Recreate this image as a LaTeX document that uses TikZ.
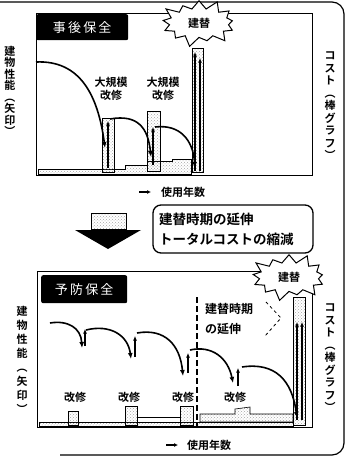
\documentclass[tikz,border=0pt]{standalone}
\usepackage{fontspec}
\setmainfont{Noto Sans CJK JP}[BoldFont={Noto Sans CJK JP Bold}]
\usetikzlibrary{arrows.meta,shapes.symbols,patterns}
\tikzset{
  perf/.style={line width=1.6pt, -{Latex[length=6pt,width=5pt]}},
  uparr/.style={line width=1.1pt, -{Latex[length=4.5pt,width=4pt]}},
  costbar/.style={draw=black, line width=0.8pt, pattern=crosshatch dots, pattern color=gray!70},
  costband/.style={draw=black, line width=0.6pt, pattern=crosshatch dots, pattern color=gray!70},
  lbl/.style={font=\bfseries\fontsize{11}{13}\selectfont, align=center, inner sep=0pt},
  vtext/.style={font=\bfseries\fontsize{11}{#1}\selectfont, align=center, inner sep=0pt},
  tagbox/.style={fill=black, text=white, rounded corners=2pt, inner sep=0pt,
    font=\fontsize{13}{15}\selectfont},
  burst/.style={starburst, starburst points=13, starburst point height=11pt, draw=black,
    fill=white, line width=1pt, inner xsep=10pt, inner ysep=5pt, font=\bfseries\fontsize{11}{12}\selectfont},
  chart/.style={draw=black, line width=1.4pt},
  axlbl/.style={font=\bfseries\fontsize{11}{13}\selectfont, inner sep=0pt}
}
\begin{document}
\begin{tikzpicture}[x=1pt,y=-1pt]
\useasboundingbox (0,0) rectangle (347,458);
% outer frame
\draw[line width=1.2pt, rounded corners=12pt] (0,2) -- (344,2) -- (344,455) -- (60,455);
% ================= top chart =================
\node[chart, minimum width=276pt, minimum height=162pt, anchor=north west, inner sep=0pt] (c1) at (36,13) {};
\node[tagbox, minimum width=92pt, minimum height=26pt, anchor=north west] (t1) at (36,14) {事\,後\,保\,全};
% cost band
\draw[costband] (38,174) -- (38,169) -- (125,169) -- (125,165) -- (147,165) -- (147,161) -- (172,161) -- (172,159) -- (191,159) -- (191,174) -- cycle;
\node[costbar, minimum width=12pt, minimum height=54pt, anchor=south west, inner sep=0pt] (b11) at (102,173) {};
\node[costbar, minimum width=13pt, minimum height=60pt, anchor=south west, inner sep=0pt] (b12) at (147,172) {};
\node[costbar, minimum width=11pt, minimum height=124pt, anchor=south west, inner sep=0pt] (b13) at (192,173) {};
% performance curves
\coordinate (pa0) at (36,62);
\coordinate (pa1) at (105,148);
\draw[perf] (pa0) .. controls (80,60) and (98,95) .. (pa1);
\coordinate (ua0) at (108,168);
\coordinate (ua1) at (108,121);
\draw[uparr] (ua0) -- (ua1);
\coordinate (pb0) at (110,119);
\coordinate (pb1) at (151,157);
\draw[perf] (pb0) .. controls (138,114) and (148,128) .. (pb1);
\coordinate (ub0) at (153,165);
\coordinate (ub1) at (153,127);
\draw[uparr] (ub0) -- (ub1);
\coordinate (pc0) at (155,127);
\coordinate (pc1) at (195,168);
\draw[perf] (pc0) .. controls (180,124) and (193,140) .. (pc1);
\coordinate (uc0) at (195,171);
\coordinate (uc1) at (195,52);
\coordinate (ud0) at (200,171);
\coordinate (ud1) at (200,58);
\draw[uparr] (uc0) -- (uc1);
\draw[uparr] (ud0) -- (ud1);
\node[lbl] (k1) at (111,89) {大規模\\改修};
\node[lbl] (k2) at (163,89) {大規模\\改修};
\node[burst] (s1) at (199,23) {建替};
% side labels
\node[vtext=11.5] (v1) at (10,91) {建\\物\\性\\能\\︵\\矢\\印\\︶};
\node[vtext=12.5] (v2) at (330,106) {コ\\ス\\ト\\︵\\棒\\グ\\ラ\\フ\\︶};
% axis label
\coordinate (ax0) at (139,192);
\coordinate (ax1) at (151,192);
\draw[line width=1.2pt, -{Latex[length=4pt,width=4pt]}] (ax0) -- (ax1);
\node[axlbl, anchor=west] (ax) at (161,192) {使用年数};
% ================= middle =================
\node[draw=black, line width=0.8pt, pattern=crosshatch dots, pattern color=gray!70,
  minimum width=35pt, minimum height=16pt, inner sep=0pt, anchor=south] (ar0) at (109,230) {};
\fill[black] (75,230) -- (141,230) -- (108,249) -- cycle;
\node[draw=black, line width=1.3pt, rounded corners=8pt, minimum width=160pt,
  minimum height=48pt, align=left, inner sep=0pt, text width=148pt,
  font=\bfseries\fontsize{13.5}{20}\selectfont] (cb) at (233,229) {建替時期の延伸\\トータルコストの縮減};
% ================= bottom chart =================
\node[chart, minimum width=275pt, minimum height=156pt, anchor=north west, inner sep=0pt] (c2) at (37,271) {};
\node[tagbox, minimum width=86pt, minimum height=28pt, anchor=north west] (t2) at (41,275) {予\,防\,保\,全};
% cost
\draw[costband] (39,426) -- (39,422) -- (293,422) -- (293,426) -- cycle;
\node[costbar, minimum width=10pt, minimum height=14pt, anchor=south west, inner sep=0pt] (b21) at (68,426) {};
\node[costbar, minimum width=12pt, minimum height=19pt, anchor=south west, inner sep=0pt] (b22) at (125,426) {};
\draw[line width=0.8pt] (137,422) -- (137,417) -- (180,417) -- (180,422);
\node[costbar, minimum width=13pt, minimum height=19pt, anchor=south west, inner sep=0pt] (b23) at (180,426) {};
\draw[costband] (200,422) -- (200,414) -- (235,414) -- (235,409) -- (250,407) -- (250,414) -- (293,414) -- (293,422) -- cycle;
\node[costbar, minimum width=12pt, minimum height=128pt, anchor=south west, inner sep=0pt] (b24) at (293,426) {};
% dashed line
\coordinate (dl0) at (197,297);
\coordinate (dl1) at (197,426);
\draw[line width=1.5pt, dash pattern=on 6pt off 3pt] (dl0) -- (dl1);
\node[font=\bfseries\fontsize{12}{20}\selectfont, align=left, anchor=north west, inner sep=0pt] (ex) at (205,303) {建替時期\\の延伸};
\coordinate (ch0) at (266,302);
\coordinate (ch1) at (281,318);
\coordinate (ch2) at (265,336);
\draw[line width=0.8pt, dashed] (ch0) -- (ch1) -- (ch2);
% performance curves
\coordinate (q10) at (50,323);
\coordinate (q11) at (82,348);
\draw[perf] (q10) .. controls (68,320) and (81,328) .. (q11);
\coordinate (w10) at (85,346); \coordinate (w11) at (85,329);
\draw[uparr] (w10) -- (w11);
\coordinate (q20) at (86,330);
\coordinate (q21) at (131,359);
\draw[perf] (q20) .. controls (110,324) and (128,335) .. (q21);
\coordinate (w20) at (135,357); \coordinate (w21) at (135,336);
\draw[uparr] (w20) -- (w21);
\coordinate (q30) at (137,333);
\coordinate (q31) at (183,376);
\draw[perf] (q30) .. controls (165,328) and (180,345) .. (q31);
\coordinate (w30) at (188,373); \coordinate (w31) at (188,353);
\draw[uparr] (w30) -- (w31);
\coordinate (q40) at (190,350);
\coordinate (q41) at (233,383);
\draw[perf] (q40) .. controls (212,345) and (228,358) .. (q41);
\coordinate (w40) at (238,386); \coordinate (w41) at (238,368);
\draw[uparr] (w40) -- (w41);
\coordinate (q50) at (242,367);
\coordinate (q51) at (297,418);
\draw[perf] (q50) .. controls (275,362) and (292,380) .. (q51);
\coordinate (w50) at (297,420); \coordinate (w51) at (297,322);
\coordinate (w60) at (302,420); \coordinate (w61) at (302,322);
\draw[uparr] (w50) -- (w51);
\draw[uparr] (w60) -- (w61);
\node[lbl] (r1) at (75,397) {改修};
\node[lbl] (r2) at (129,397) {改修};
\node[lbl] (r3) at (183,397) {改修};
\node[lbl] (r4) at (235,397) {改修};
\node[burst] (s2) at (289,277) {建替};
% side labels
\node[vtext=14] (v3) at (22,360) {建\\物\\性\\能\\︵\\矢\\印\\︶};
\node[vtext=12.5] (v4) at (330,358) {コ\\ス\\ト\\︵\\棒\\グ\\ラ\\フ\\︶};
% axis label
\coordinate (ay0) at (166,445);
\coordinate (ay1) at (178,445);
\draw[line width=1.2pt, -{Latex[length=4pt,width=4pt]}] (ay0) -- (ay1);
\node[axlbl, anchor=west] (ay) at (187,445) {使用年数};
\end{tikzpicture}
\end{document}
